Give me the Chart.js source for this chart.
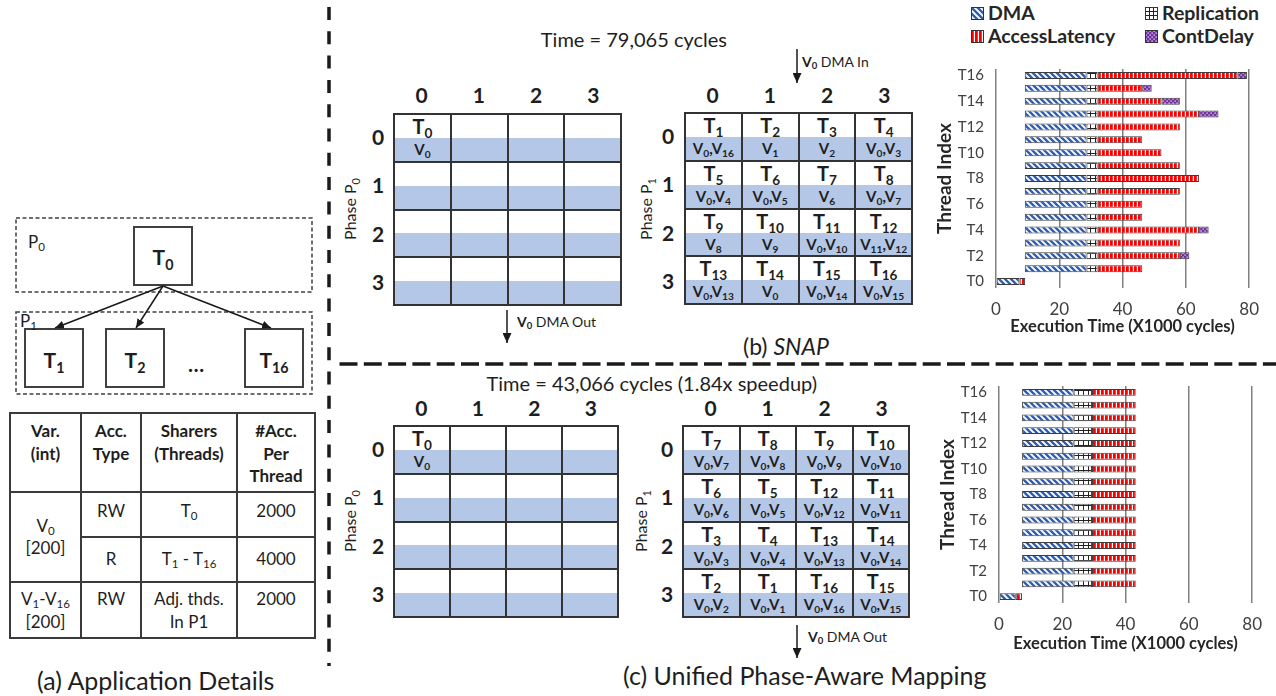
<!DOCTYPE html>
<html>
<head>
<meta charset="utf-8">
<script src="https://cdn.jsdelivr.net/npm/chart.js@4.4.0/dist/chart.umd.min.js"></script>
<style>
  body { margin: 0; background: #fff; font-family: Lato, sans-serif; color: #1e1e1e; }
  #page { position: relative; width: 1276px; height: 696px; overflow: hidden; }
  .abs { position: absolute; white-space: nowrap; line-height: 1.2; }
  sub { font-size: 0.68em; vertical-align: -0.3em; line-height: 0; }
  .grid { position: absolute; box-sizing: border-box; display: grid; gap: 2px;
          grid-template-columns: repeat(4, 1fr); grid-template-rows: repeat(4, 1fr);
          background: #333; border: 2px solid #333; }
  .cell { position: relative; background: linear-gradient(#fff 50%, #b4c7e7 50%); }
  .cell .t { position: absolute; left: 0; right: 0; top: -1px; text-align: center; font-weight: bold; font-size: 20px; line-height: 1.2; }
  .cell .v { position: absolute; left: 0; right: 0; top: 25px; text-align: center; font-weight: bold; font-size: 15px; line-height: 1.2; }
  table.app { position: absolute; left: 9px; top: 412px; width: 305px; border-collapse: collapse; table-layout: fixed;
              font-size: 17px; line-height: 22.5px; text-align: center; }
  table.app td { border: 2px solid #3a3a3a; padding: 0; }
  .chartbox { position: absolute; width: 340px; height: 292px; }
</style>
</head>
<body>
<div id="page">
  <svg width="1276" height="696" style="position:absolute;left:0;top:0">
    <defs>
      <marker id="ah" markerWidth="9" markerHeight="8" refX="9" refY="4" orient="auto" markerUnits="userSpaceOnUse">
        <path d="M0,0 L9,4 L0,8 z" fill="#1a1a1a"/>
      </marker>
      <marker id="ah2" markerWidth="10" markerHeight="9" refX="10" refY="4.5" orient="auto" markerUnits="userSpaceOnUse">
        <path d="M0,0 L10,4.5 L0,9 z" fill="#1a1a1a"/>
      </marker>
    </defs>
    <!-- dividers -->
    <line x1="329" y1="7" x2="329" y2="666" stroke="#1a1a1a" stroke-width="3.5" stroke-dasharray="13 11.3"/>
    <line x1="339.5" y1="364" x2="1276" y2="364" stroke="#1a1a1a" stroke-width="3.5" stroke-dasharray="18 6.3"/>
    <!-- (a) task graph -->
    <rect x="16" y="218" width="296" height="74" fill="none" stroke="#404040" stroke-width="1.5" stroke-dasharray="4 2.5"/>
    <rect x="16" y="312" width="296" height="82" fill="none" stroke="#404040" stroke-width="1.5" stroke-dasharray="4 2.5"/>
    <rect x="134" y="227" width="58" height="58" fill="#fff" stroke="#404040" stroke-width="2"/>
    <rect x="25" y="329" width="58" height="58" fill="#fff" stroke="#404040" stroke-width="2"/>
    <rect x="106" y="329" width="58" height="58" fill="#fff" stroke="#404040" stroke-width="2"/>
    <rect x="245" y="329" width="58" height="58" fill="#fff" stroke="#404040" stroke-width="2"/>
    <line x1="163" y1="286" x2="55" y2="328" stroke="#1a1a1a" stroke-width="1.5" marker-end="url(#ah)"/>
    <line x1="163" y1="286" x2="136" y2="328" stroke="#1a1a1a" stroke-width="1.5" marker-end="url(#ah)"/>
    <line x1="163" y1="286" x2="271" y2="328" stroke="#1a1a1a" stroke-width="1.5" marker-end="url(#ah)"/>
    <!-- DMA arrows -->
    <line x1="797" y1="49" x2="797" y2="83" stroke="#1a1a1a" stroke-width="1.5" marker-end="url(#ah2)"/>
    <line x1="507" y1="310" x2="507" y2="343" stroke="#1a1a1a" stroke-width="1.5" marker-end="url(#ah2)"/>
    <line x1="797" y1="625" x2="797" y2="658" stroke="#1a1a1a" stroke-width="1.5" marker-end="url(#ah2)"/>
  </svg>

  <table class="app">
    <colgroup><col style="width:71px"><col style="width:60px"><col style="width:96px"><col style="width:78px"></colgroup>
    <tr style="height:79px;font-weight:bold;vertical-align:top">
      <td style="padding-top:6px">Var.<br>(int)</td>
      <td style="padding-top:6px">Acc.<br>Type</td>
      <td style="padding-top:6px">Sharers<br>(Threads)</td>
      <td style="padding-top:6px">#Acc.<br>Per<br>Thread</td>
    </tr>
    <tr style="height:45px">
      <td rowspan="2">V<sub>0</sub><br>[200]</td>
      <td style="padding-bottom:6px">RW</td>
      <td style="padding-bottom:6px">T<sub>0</sub></td>
      <td style="padding-bottom:6px">2000</td>
    </tr>
    <tr style="height:45px">
      <td>R</td>
      <td>T<sub>1</sub> - T<sub>16</sub></td>
      <td>4000</td>
    </tr>
    <tr style="height:56px;vertical-align:top">
      <td style="padding-top:5px">V<sub>1</sub>-V<sub>16</sub><br>[200]</td>
      <td style="padding-top:5px">RW</td>
      <td style="padding-top:5px">Adj. thds.<br>In P1</td>
      <td style="padding-top:5px">2000</td>
    </tr>
  </table>

  <div class="chartbox" style="left:930px;top:48px"><canvas id="snapChart"></canvas></div>
  <div class="chartbox" style="left:933px;top:365px"><canvas id="upaChart"></canvas></div>
</div>

<script>
// ---- chart data (x1000 cycles) ----
const threads = ['T0', 'T1', 'T2', 'T3', 'T4', 'T5', 'T6', 'T7', 'T8', 'T9', 'T10', 'T11', 'T12', 'T13', 'T14', 'T15', 'T16'];
const xTicks = [0, 20, 40, 60, 80];

// (b) SNAP
const snapStart  = [0, 9.1, 9.1, 9.1, 9.1, 9.1, 9.1, 9.1, 9.1, 9.1, 9.1, 9.1, 9.1, 9.1, 9.1, 9.1, 9.1];
const snapDMA    = [7.4, 19.5, 19.5, 19.5, 19.5, 19.5, 19.5, 19.5, 19.5, 19.5, 19.5, 19.5, 19.5, 19.5, 19.5, 19.5, 19.5];
const snapRepl   = [0, 3.5, 3.5, 3.5, 3.5, 3.5, 3.5, 3.5, 3.5, 3.5, 3.5, 3.5, 3.5, 3.5, 3.5, 3.5, 3.5];
const snapAccess = [1.8, 14.1, 26.0, 26.0, 32.1, 14.1, 14.1, 26.0, 32.1, 26.0, 20.2, 14.1, 26.0, 32.1, 20.2, 14.1, 44.2];
const snapCont   = [0, 0, 3.0, 0, 3.0, 0, 0, 0, 0, 0, 0, 0, 0, 6.1, 5.8, 3.0, 3.0];

// (c) Unified Phase-Aware Mapping
const upaStart  = [0, 7.3, 7.3, 7.3, 7.3, 7.3, 7.3, 7.3, 7.3, 7.3, 7.3, 7.3, 7.3, 7.3, 7.3, 7.3, 7.3];
const upaDMA    = [5.3, 16.3, 16.3, 16.3, 16.3, 16.3, 16.3, 16.3, 16.3, 16.3, 16.3, 16.3, 16.3, 16.3, 16.3, 16.3, 16.3];
const upaRepl   = [0, 5.8, 5.8, 5.8, 5.8, 5.8, 5.8, 5.8, 5.8, 5.8, 5.8, 5.8, 5.8, 5.8, 5.8, 5.8, 5.8];
const upaAccess = [2.0, 13.8, 13.8, 13.8, 13.8, 13.8, 13.8, 13.8, 13.8, 13.8, 13.8, 13.8, 13.8, 13.8, 13.8, 13.8, 13.8];
const upaCont   = [0, 0, 0, 0, 0, 0, 0, 0, 0, 0, 0, 0, 0, 0, 0, 0, 0];

// ---- grid contents ----
const snapP1T = [[1, 2, 3, 4], [5, 6, 7, 8], [9, 10, 11, 12], [13, 14, 15, 16]];
const snapP1V = [['0,16', '1', '2', '0,3'], ['0,4', '0,5', '6', '0,7'], ['8', '9', '0,10', '11,12'], ['0,13', '0', '0,14', '0,15']];
const upaP1T = [[7, 8, 9, 10], [6, 5, 12, 11], [3, 4, 13, 14], [2, 1, 16, 15]];
const upaP1V = [['0,7', '0,8', '0,9', '0,10'], ['0,6', '0,5', '0,12', '0,11'], ['0,3', '0,4', '0,13', '0,14'], ['0,2', '0,1', '0,16', '0,15']];

const page = document.getElementById('page');

function put(html, x, y, css, anchor) {
  const d = document.createElement('div');
  d.className = 'abs';
  d.innerHTML = html;
  d.style.cssText += css || '';
  d.style.left = x + 'px';
  d.style.top = y + 'px';
  const tx = anchor === 'c' ? '-50%' : anchor === 'r' ? '-100%' : '0';
  d.style.transform = 'translate(' + tx + ',-50%)';
  page.appendChild(d);
  return d;
}

const vText = s => s.split(',').map(n => 'V<sub>' + n + '</sub>').join(',');

function headers(x, w, yCol, yTop, h, xRow) {
  for (let i = 0; i < 4; i++) {
    put(String(i), x + w / 8 * (2 * i + 1), yCol, 'font-weight:bold;font-size:21px', 'c');
    put(String(i), xRow, yTop + h / 8 * (2 * i + 1), 'font-weight:bold;font-size:21px', 'c');
  }
}

function phaseLabel(n, cx, cy) {
  const d = put('Phase P<sub>' + n + '</sub>', cx, cy, 'font-size:16px', 'c');
  d.style.transform = 'translate(-50%,-50%) rotate(-90deg)';
}

function buildGrid(x, y, w, h, tRows, vRows) {
  const g = document.createElement('div');
  g.className = 'grid';
  g.style.left = x + 'px'; g.style.top = y + 'px';
  g.style.width = w + 'px'; g.style.height = h + 'px';
  for (let r = 0; r < 4; r++) {
    for (let c = 0; c < 4; c++) {
      const cell = document.createElement('div');
      cell.className = 'cell';
      if (tRows[r] && tRows[r][c] !== undefined) {
        cell.innerHTML = '<div class="t">T<sub>' + tRows[r][c] + '</sub></div><div class="v">' + vText(vRows[r][c]) + '</div>';
      }
      g.appendChild(cell);
    }
  }
  page.appendChild(g);
}

// (b) SNAP grids
buildGrid(393, 113, 229, 193, [[0]], [['0']]);
headers(393, 229, 95, 113, 193, 378);
phaseLabel(0, 350, 209);
buildGrid(684, 112, 229, 193, snapP1T, snapP1V);
headers(684, 229, 95, 112, 193, 668);
phaseLabel(1, 646, 209);

// (c) unified grids
buildGrid(393, 425, 226, 193, [[0]], [['0']]);
headers(393, 226, 408, 425, 193, 378);
phaseLabel(0, 350, 521);
buildGrid(682, 425, 228, 193, upaP1T, upaP1V);
headers(682, 228, 408, 425, 193, 667);
phaseLabel(1, 641, 521);

// captions and notes
put('Time = 79,065 cycles', 727, 39, 'font-size:20px', 'r');
put('Time = 43,066 cycles (1.84x speedup)', 817, 383, 'font-size:20px', 'r');
put('<b>V<sub>0</sub></b> DMA In', 802, 62, 'font-size:14px');
put('<b>V<sub>0</sub></b> DMA Out', 517, 322, 'font-size:14px');
put('<b>V<sub>0</sub></b> DMA Out', 808, 637, 'font-size:14px');
put('(b) <i>SNAP</i>', 743, 347, 'font-size:23px');
put('(c) Unified Phase-Aware Mapping', 623, 675, 'font-size:25px');
put('(a) Application Details', 37, 680, 'font-size:25px');

// (a) task graph labels
put('P<sub>0</sub>', 28, 242, 'font-size:17px');
put('P<sub>1</sub>', 20, 321, 'font-size:17px');
put('T<sub>0</sub>', 163, 257, 'font-weight:bold;font-size:21px', 'c');
put('T<sub>1</sub>', 54, 360, 'font-weight:bold;font-size:21px', 'c');
put('T<sub>2</sub>', 135, 360, 'font-weight:bold;font-size:21px', 'c');
put('T<sub>16</sub>', 274, 360, 'font-weight:bold;font-size:21px', 'c');
put('…', 196, 364, 'font-weight:bold;font-size:21px', 'c');

// ---- patterns ----
function makePattern(w, h, draw) {
  const c = document.createElement('canvas');
  c.width = w; c.height = h;
  const g = c.getContext('2d');
  draw(g, w, h);
  return g.createPattern(c, 'repeat');
}
const drawDMA = (g, w, h) => {
  g.fillStyle = '#fff'; g.fillRect(0, 0, w, h);
  g.strokeStyle = '#2e5fb4'; g.lineWidth = 2.4;
  g.beginPath();
  g.moveTo(-1, -1); g.lineTo(w + 1, h + 1);
  g.moveTo(w - 1, -1); g.lineTo(w + 1, 1);
  g.moveTo(-1, h - 1); g.lineTo(1, h + 1);
  g.stroke();
};
const drawRepl = (g, w, h) => {
  g.fillStyle = '#fff'; g.fillRect(0, 0, w, h);
  g.fillStyle = '#222'; g.fillRect(0, 0, w, 1); g.fillRect(0, 0, 1, h);
};
const drawAccess = (g, w, h) => {
  g.fillStyle = '#ff0000'; g.fillRect(0, 0, w, h);
  g.fillStyle = '#fff'; g.fillRect(2.8, 0, 1.2, h);
};
const drawCont = (g, w, h) => {
  g.fillStyle = '#7030a0'; g.fillRect(0, 0, w, h);
  g.fillStyle = '#fff'; g.fillRect(0.5, 0.5, 1.2, 1.2); g.fillRect(2.5, 2.5, 1.2, 1.2);
};
const pDMA = makePattern(6, 6, drawDMA);
const pRepl = makePattern(5, 5, drawRepl);
const pAccess = makePattern(4, 4, drawAccess);
const pCont = makePattern(4, 4, drawCont);

// legend (HTML, pattern swatches)
const legendItems = [
  ['DMA', drawDMA, 6, 971, 13],
  ['Replication', drawRepl, 4, 1145, 13],
  ['AccessLatency', drawAccess, 4, 971, 36],
  ['ContDelay', drawCont, 4, 1145, 36]
];
legendItems.forEach(([name, draw, tile, x, y]) => {
  const c = document.createElement('canvas');
  c.width = 13; c.height = 13;
  c.style.cssText = 'position:absolute;left:' + x + 'px;top:' + (y - 6) + 'px';
  const g = c.getContext('2d');
  g.fillStyle = makePattern(tile, tile, draw);
  g.fillRect(0, 0, 13, 13);
  g.strokeStyle = '#333'; g.lineWidth = 1;
  g.strokeRect(0.5, 0.5, 12, 12);
  page.appendChild(c);
  put(name, x + 17, y, 'font-weight:bold;font-size:19.5px;color:#262626');
});

// ---- charts ----
Chart.defaults.font.family = 'Lato, sans-serif';
Chart.defaults.color = '#404040';

function makeChart(id, start, dma, repl, acc, cont, axisH) {
  return new Chart(document.getElementById(id), {
    type: 'bar',
    data: {
      labels: threads,
      datasets: [
        { label: 'start', data: start, backgroundColor: 'rgba(0,0,0,0)', borderWidth: 0 },
        { label: 'DMA', data: dma, backgroundColor: pDMA },
        { label: 'Replication', data: repl, backgroundColor: pRepl },
        { label: 'AccessLatency', data: acc, backgroundColor: pAccess },
        { label: 'ContDelay', data: cont, backgroundColor: pCont }
      ]
    },
    options: {
      indexAxis: 'y',
      responsive: true,
      maintainAspectRatio: false,
      animation: false,
      layout: { padding: { top: 7, right: 19, left: 0, bottom: 0 } },
      datasets: {
        bar: {
          categoryPercentage: 1,
          barPercentage: 0.54,
          borderColor: '#3c3c3c',
          borderSkipped: false,
          borderWidth: c => (c.raw ? 1 : 0)
        }
      },
      plugins: { legend: { display: false }, tooltip: { enabled: false } },
      scales: {
        x: {
          stacked: true, min: 0, max: 80,
          afterBuildTicks: s => { s.ticks = xTicks.map(v => ({ value: v })); },
          ticks: { font: { size: 17 }, padding: 11, color: '#404040' },
          grid: { color: '#808080', lineWidth: 1.5, drawTicks: false },
          border: { display: false },
          title: { display: true, text: 'Execution Time (X1000 cycles)', color: '#262626',
                   font: { size: 16.5, weight: 'bold' }, padding: { top: 0, bottom: 3 } },
          afterFit: s => { s.height = axisH; }
        },
        y: {
          stacked: true, reverse: true,
          grid: { display: false, drawTicks: false },
          border: { display: false },
          ticks: { autoSkip: false, padding: 12, font: { size: 15 }, color: '#404040',
                   callback: v => (v % 2 === 0 ? threads[v] : '') },
          title: { display: true, text: 'Thread Index', color: '#262626',
                   font: { size: 19, weight: 'bold' }, padding: { top: 3, bottom: 0 } },
          afterFit: s => { s.width = 66; }
        }
      }
    }
  });
}

makeChart('snapChart', snapStart, snapDMA, snapRepl, snapAccess, snapCont, 52);
makeChart('upaChart', upaStart, upaDMA, upaRepl, upaAccess, upaCont, 54);
</script>
</body>
</html>
